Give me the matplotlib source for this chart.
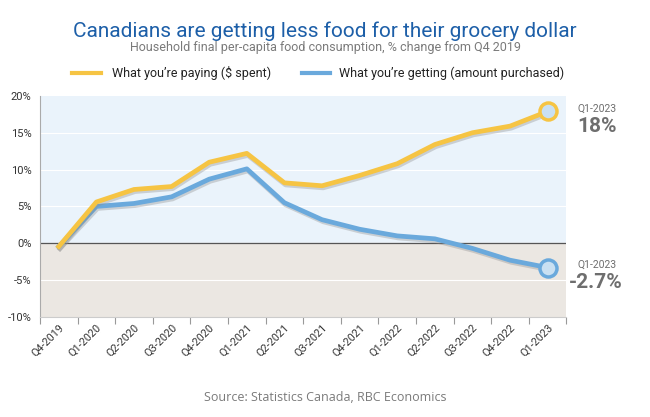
import numpy as np
import matplotlib.pyplot as plt
import matplotlib.patheffects as pe

quarters = ['Q4-2019', 'Q1-2020', 'Q2-2020', 'Q3-2020', 'Q4-2020', 'Q1-2021', 'Q2-2021',
            'Q3-2021', 'Q4-2021', 'Q1-2022', 'Q2-2022', 'Q3-2022', 'Q4-2022', 'Q1-2023']
paying = [-0.45, 5.6, 7.3, 7.7, 11.0, 12.2, 8.2, 7.8, 9.2, 10.8, 13.4, 15.0, 15.9, 17.9]
getting = [-0.45, 5.0, 5.4, 6.3, 8.7, 10.1, 5.5, 3.2, 1.9, 1.0, 0.6, -0.7, -2.3, -3.3]
yticks = [-10, -5, 0, 5, 10, 15, 20]

yellow = '#f6c443'
blue = '#6aa9dc'
grey_txt = '#6e6e6e'

plt.rcParams['font.family'] = ['Roboto', 'DejaVu Sans']

fig = plt.figure(figsize=(6.5, 4.17), dpi=100)
ax = fig.add_axes([0.0615, 0.24, 0.81, 0.53])

x = np.arange(len(quarters))
ax.set_xlim(-0.5, len(quarters) - 0.5)
ax.set_ylim(-10, 20)

# background bands above / below zero
ax.axhspan(0, 20, color='#eaf3fb', zorder=0)
ax.axhspan(-10, 0, color='#ebe7e2', zorder=0)
for yv in yticks[1:-1]:
    if yv != 0:
        ax.axhline(yv, color='white', lw=0.8, zorder=1)
ax.axhline(0, color='#555555', lw=0.9, zorder=2)

shadow = [pe.SimpleLineShadow(offset=(0.8, -1.5), shadow_color='#8a8a8a', alpha=0.35),
          pe.Normal()]
ax.plot(x, paying, color=yellow, lw=3.4, solid_joinstyle='round', zorder=4, path_effects=shadow)
ax.plot(x, getting, color=blue, lw=3.4, solid_joinstyle='round', zorder=3, path_effects=shadow)

ax.scatter([x[-1]], [paying[-1]], s=150, facecolor='#c9e0f2', edgecolor=yellow, lw=2.5, zorder=5)
ax.scatter([x[-1]], [getting[-1]], s=150, facecolor='#c9e0f2', edgecolor=blue, lw=2.5, zorder=5)

# end labels
for val, big, dx in [(paying[-1], '18%', 8), (getting[-1], '-2.7%', 2)]:
    ax.annotate('Q1-2023', xy=(1.0, val), xycoords=('axes fraction', 'data'),
                xytext=(8, 2), textcoords='offset points', color=grey_txt, fontsize=7.5,
                ha='left', va='center', annotation_clip=False)
    ax.annotate(big, xy=(1.0, val), xycoords=('axes fraction', 'data'),
                xytext=(dx, -4), textcoords='offset points', color=grey_txt, fontsize=15,
                fontweight='bold', ha='left', va='top', annotation_clip=False)

# axes styling
ax.set_yticks(yticks)
ax.set_yticklabels([f'{v}%' for v in yticks], fontsize=8, color='#333333')
ax.tick_params(axis='y', length=0, pad=6)
ax.set_xticks(np.arange(-0.5, len(quarters)), minor=False)
ax.set_xticklabels([])
ax.set_xticks(x, minor=True)
ax.set_xticklabels(quarters, minor=True, rotation=45, ha='right', rotation_mode='anchor',
                   fontsize=7.8, color='#333333')
ax.tick_params(axis='x', which='major', length=5, color='#999999', direction='out')
ax.tick_params(axis='x', which='minor', length=0, pad=4)
for side in ['top', 'right']:
    ax.spines[side].set_visible(False)
ax.spines['left'].set_color('#aaaaaa')
ax.spines['bottom'].set_color('#cccccc')

# titles and legend
fig.text(0.5, 0.925, 'Canadians are getting less food for their grocery dollar',
         ha='center', va='center', fontsize=15, color='#1d5fa8')
fig.text(0.5, 0.885, 'Household final per-capita food consumption, % change from Q4 2019',
         ha='center', va='center', fontsize=9, color='#7a7a7a')

leg_y = 0.825
fig.add_artist(plt.Line2D([0.11, 0.155], [leg_y, leg_y], color=yellow, lw=3, transform=fig.transFigure))
fig.text(0.172, leg_y, 'What you\u2019re paying ($ spent)', ha='left', va='center', fontsize=9, color='#222222')
fig.add_artist(plt.Line2D([0.465, 0.508], [leg_y, leg_y], color=blue, lw=3, transform=fig.transFigure))
fig.text(0.522, leg_y, 'What you\u2019re getting (amount purchased)', ha='left', va='center', fontsize=9, color='#222222')

fig.text(0.5, 0.046, 'Source: Statistics Canada, RBC Economics', ha='center', va='center',
         fontsize=9, color='#7a7a7a', family=['Open Sans', 'DejaVu Sans'])

fig.savefig('out.png', dpi=100, facecolor='white')
